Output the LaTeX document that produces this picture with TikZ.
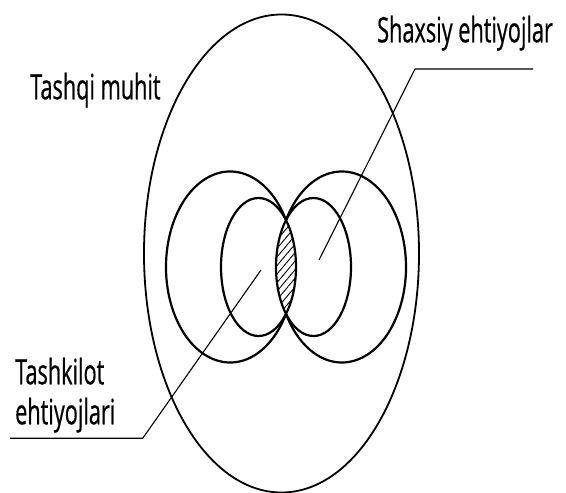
\documentclass[tikz,border=0pt]{standalone}
\usepackage{fontspec}
\newfontfamily\labfont[FakeStretch=0.62,FakeBold=0.5]{Open Sans}
\usetikzlibrary{patterns.meta}
\begin{document}
\begin{tikzpicture}[x=1pt,y=1pt,
  ring/.style={line width=2.2pt},
  outer/.style={line width=1.8pt},
  leader/.style={line width=1.1pt},
  lab/.style={font=\labfont\fontsize{35}{40}\selectfont, inner sep=0pt, anchor=base west, align=left},
  hatch/.style={pattern={Lines[angle=50,distance=5.5pt,line width=0.9pt]}}]
\useasboundingbox (0,0) rectangle (566,493);
% outer environment
\draw[outer] (281.5,239.5) ellipse [x radius=137.5, y radius=239];
% hatched lens
\begin{scope}
  \clip (258.5,226) ellipse [x radius=37.5, y radius=69];
  \fill[hatch] (313.5,226) ellipse [x radius=37.5, y radius=69];
\end{scope}
% inner ellipses
\draw[ring] (258.5,226) ellipse [x radius=37.5, y radius=69];
\draw[ring] (313.5,226) ellipse [x radius=37.5, y radius=69];
% outer arcs meeting at the cusps
\coordinate (cuspT) at (286,272.88);
\coordinate (cuspB) at (286,179.12);
\draw[ring] (cuspT) arc[start angle=29.4, end angle=330.6, x radius=64.14, y radius=95.5];
\draw[ring] (cuspT) arc[start angle=150.6, end angle=-150.6, x radius=64.14, y radius=95.5];
% labels
\node[lab] (shax) at (377,450.7) {Shaxsiy ehtiyojlar};
\node[lab] (tash) at (30,393.7) {Tashqi muhit};
\node[lab] (tashk) at (15,68.7) {Tashkilot\\ehtiyojlari};
% leaders
\coordinate (s1) at (533,424);
\coordinate (s2) at (415,424);
\coordinate (s3) at (319,233);
\draw[leader] (s1) -- (s2) -- (s3);
\coordinate (t1) at (10,54.7);
\coordinate (t2) at (142.7,54.7);
\coordinate (t3) at (261,223);
\draw[leader] (t1) -- (t2) -- (t3);
\end{tikzpicture}
\end{document}
